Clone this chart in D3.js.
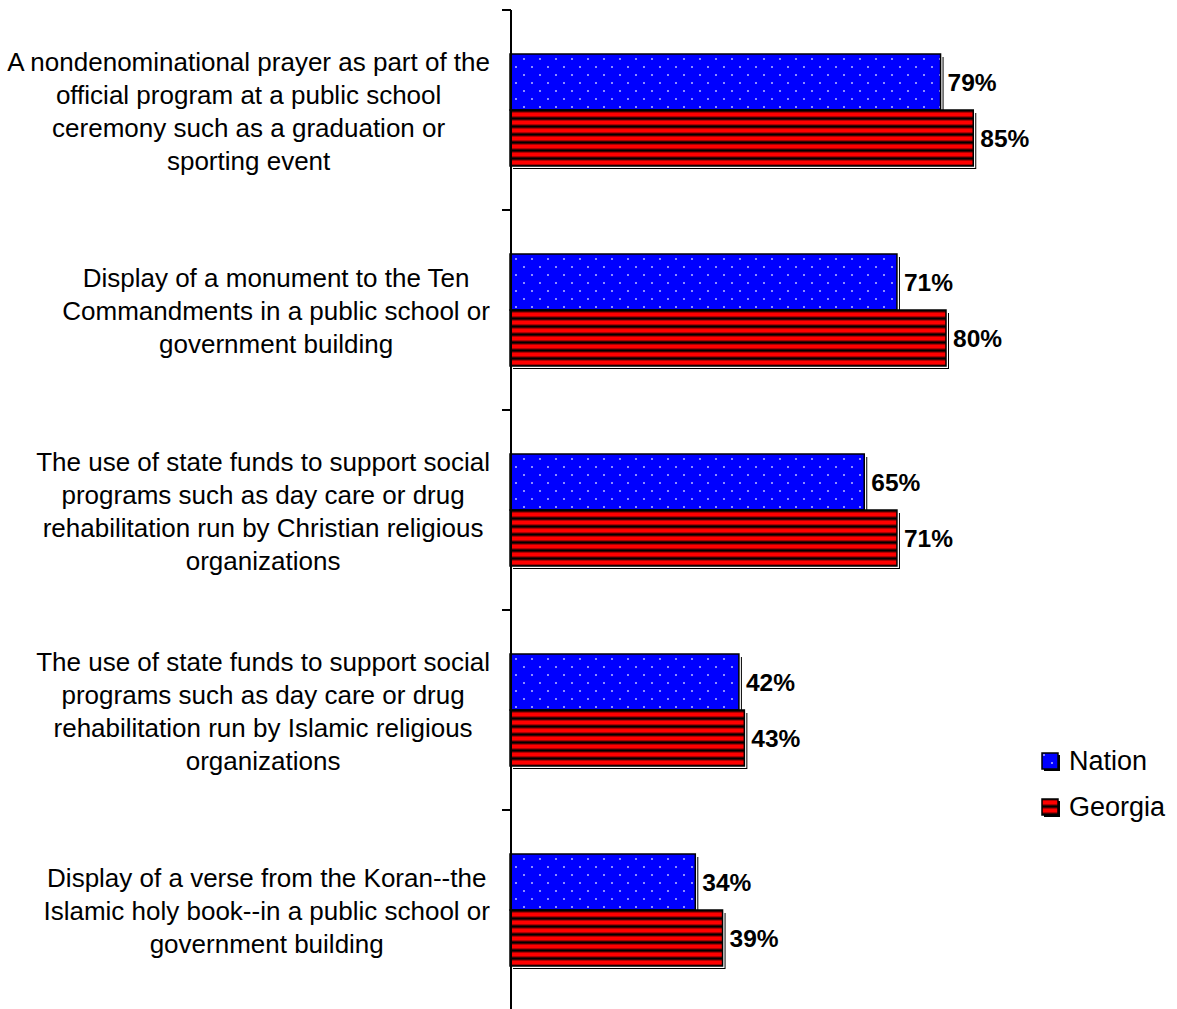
<!DOCTYPE html>
<html>
<head>
<meta charset="utf-8">
<script src="https://cdn.jsdelivr.net/npm/d3@7"></script>
<style>
  html, body { margin: 0; padding: 0; background: #fff; }
  svg { display: block; font-family: "Liberation Sans", Arial, sans-serif; }
</style>
</head>
<body>
<svg id="chart" width="1177" height="1009"></svg>
<script>
const categories = [
  ["A nondenominational prayer as part of the", "official program at a public school", "ceremony such as a graduation or", "sporting event"],
  ["Display of a monument to the Ten", "Commandments in a public school or", "government building"],
  ["The use of state funds to support social", "programs such as day care or drug", "rehabilitation run by Christian religious", "organizations"],
  ["The use of state funds to support social", "programs such as day care or drug", "rehabilitation run by Islamic religious", "organizations"],
  ["Display of a verse from the Koran--the", "Islamic holy book--in a public school or", "government building"]
];
const seriesNames = ["Nation", "Georgia"];
const nation = [79, 71, 65, 42, 34];
const georgia = [85, 80, 71, 43, 39];

const svg = d3.select("#chart");
const defs = svg.append("defs");

// Nation: blue with light dots
const pd = defs.append("pattern").attr("id", "dots").attr("patternUnits", "userSpaceOnUse")
  .attr("width", 16).attr("height", 16);
pd.append("rect").attr("width", 16).attr("height", 16).attr("fill", "#0000ff");
pd.append("rect").attr("x", 3).attr("y", 2).attr("width", 2).attr("height", 2).attr("fill", "#8c8cff");
pd.append("rect").attr("x", 11).attr("y", 10).attr("width", 2).attr("height", 2).attr("fill", "#8c8cff");

// Georgia: red/black horizontal stripes
const ps = defs.append("pattern").attr("id", "stripes").attr("patternUnits", "userSpaceOnUse")
  .attr("width", 8).attr("height", 8);
ps.append("rect").attr("width", 8).attr("height", 8).attr("fill", "#000");
ps.append("rect").attr("y", 0).attr("width", 8).attr("height", 1).attr("fill", "#b00000");
ps.append("rect").attr("y", 1).attr("width", 8).attr("height", 3).attr("fill", "#ff0000");
ps.append("rect").attr("y", 4).attr("width", 8).attr("height", 1).attr("fill", "#b00000");
ps.append("rect").attr("y", 5).attr("width", 8).attr("height", 1).attr("fill", "#400000");
ps.append("rect").attr("y", 7).attr("width", 8).attr("height", 1).attr("fill", "#400000");

const fills = ["url(#dots)", "url(#stripes)"];

const y = d3.scaleBand().domain(d3.range(categories.length)).range([10, 1010]).paddingInner(0).paddingOuter(0);
const x = d3.scaleLinear().domain([0, 100]).range([510, 1055]);
const barH = 56, offset = 44;

const data = [];
categories.forEach((c, i) => {
  data.push({ i, s: 0, v: nation[i] });
  data.push({ i, s: 1, v: georgia[i] });
});

const g = svg.append("g");
function by(d) { return y(d.i) + offset + d.s * barH; }

// shadows
g.selectAll(".sh").data(data).join("rect")
  .attr("x", d => x(0) + 3).attr("y", d => by(d) + 3)
  .attr("width", d => x(d.v) - x(0)).attr("height", barH)
  .attr("fill", "#000");
g.selectAll(".wh").data(data).join("rect")
  .attr("x", d => x(0)).attr("y", d => by(d))
  .attr("width", d => x(d.v) - x(0) + 2).attr("height", barH + 2)
  .attr("fill", "#fff");
g.selectAll(".bar").data(data).join("rect")
  .attr("x", d => x(0)).attr("y", d => by(d))
  .attr("width", d => x(d.v) - x(0)).attr("height", barH)
  .attr("fill", d => fills[d.s])
  .attr("stroke", "#000").attr("stroke-width", 1.5);

// value labels
g.selectAll(".val").data(data).join("text")
  .attr("x", d => x(d.v) + 7)
  .attr("y", d => by(d) + barH / 2 + 9)
  .attr("font-size", 24.5).attr("font-weight", "bold").attr("fill", "#000")
  .text(d => d.v + "%");

// axis
const axis = d3.axisLeft(y).tickSize(9).tickFormat("").tickSizeOuter(0);
const ag = svg.append("g").attr("transform", "translate(511,0)").call(axis);
ag.select(".domain").remove();
ag.selectAll(".tick").attr("transform", d => `translate(0,${y(d)})`);
ag.selectAll(".tick line").attr("stroke", "#000").attr("stroke-width", 2);
svg.append("line").attr("x1", 511).attr("x2", 511).attr("y1", 10).attr("y2", 1009)
  .attr("stroke", "#000").attr("stroke-width", 2);

// category labels: block right-aligned at 490, lines centred within block
const lh = 33;
categories.forEach((lines, i) => {
  const cy = y(i) + y.bandwidth() / 2 + 1;
  const t = svg.append("text").attr("text-anchor", "middle").attr("font-size", 26).attr("fill", "#000");
  const spans = lines.map((ln, k) => t.append("tspan")
    .attr("y", cy + (k - (lines.length - 1) / 2) * lh + 9)
    .text(ln));
  const maxW = d3.max(spans, s => s.node().getComputedTextLength());
  spans.forEach(s => s.attr("x", 490 - maxW / 2));
});

// legend
const lg = svg.append("g");
seriesNames.forEach((n, k) => {
  const ly = 753 + k * 46;
  lg.append("rect").attr("x", 1044).attr("y", ly + 2).attr("width", 16).attr("height", 16).attr("fill", "#000");
  lg.append("rect").attr("x", 1042).attr("y", ly).attr("width", 16).attr("height", 16)
    .attr("fill", fills[k]).attr("stroke", "#000").attr("stroke-width", 1.5);
  lg.append("text").attr("x", 1069).attr("y", ly + 17).attr("font-size", 27).attr("fill", "#000").text(n);
});
</script>
</body>
</html>
